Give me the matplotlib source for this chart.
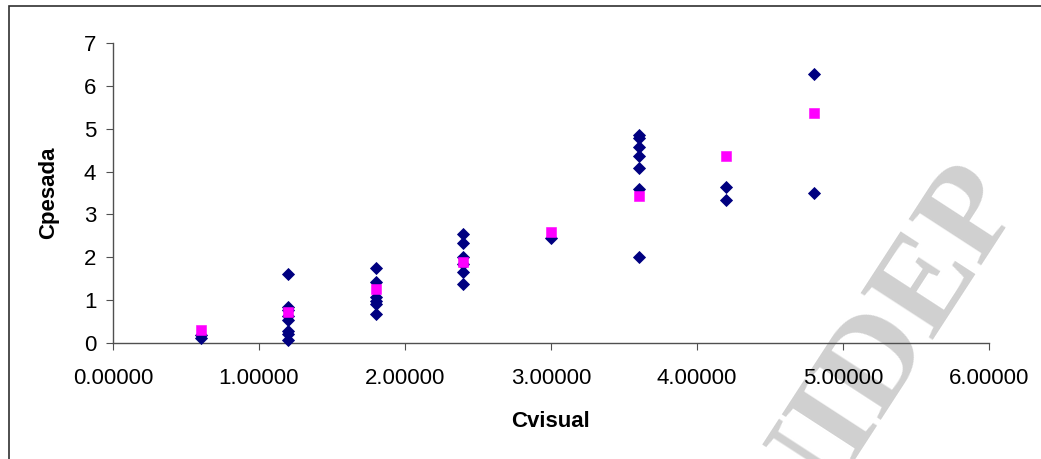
import matplotlib
matplotlib.use("Agg")
import matplotlib.pyplot as plt
from matplotlib.patches import Rectangle
from matplotlib.ticker import FormatStrFormatter

plt.rcParams['font.family'] = ['Liberation Sans', 'DejaVu Sans']

# Observed (diamonds) data: Cvisual vs Cpesada
obs_x = [0.6, 0.6,
         1.2, 1.2, 1.2, 1.2, 1.2, 1.2, 1.2, 1.2,
         1.8, 1.8, 1.8, 1.8, 1.8, 1.8,
         2.4, 2.4, 2.4, 2.4, 2.4, 2.4,
         3.0,
         3.6, 3.6, 3.6, 3.6, 3.6, 3.6, 3.6,
         4.2, 4.2,
         4.8, 4.8]
obs_y = [0.19, 0.12,
         1.62, 0.85, 0.78, 0.62, 0.54, 0.28, 0.21, 0.07,
         1.75, 1.43, 1.08, 0.98, 0.91, 0.67,
         2.55, 2.33, 2.00, 1.85, 1.65, 1.37,
         2.44,
         4.85, 4.79, 4.58, 4.36, 4.08, 3.60, 2.00,
         3.65, 3.34,
         6.27, 3.49]

# Mean (squares) per Cvisual level
mean_x = [0.6, 1.2, 1.8, 2.4, 3.0, 3.6, 4.2, 4.8]
mean_y = [0.30, 0.72, 1.25, 1.89, 2.60, 3.43, 4.36, 5.37]

x_ticks = [0, 1, 2, 3, 4, 5, 6]
y_ticks = [0, 1, 2, 3, 4, 5, 6, 7]

W, H = 1041, 459
fig = plt.figure(figsize=(W / 100, H / 100), dpi=100)
fig.patch.set_facecolor('white')

# outer chart-area border (cropped on right and bottom)
fig.add_artist(Rectangle((8.5 / W, -0.05), 1.2, 1 - 5.5 / H + 0.05,
                         transform=fig.transFigure, fill=False,
                         edgecolor='#303030', linewidth=1.2, clip_on=False))

# watermark (beneath the plot)
fig.text(800 / W, 1 - 542 / H, 'NIDEP', rotation=57, rotation_mode='anchor',
         fontsize=95, fontweight='bold',
         family=['Liberation Serif', 'DejaVu Serif'],
         color='#d0d0d0', ha='left', va='baseline', zorder=-1)

ax = fig.add_axes([113 / W, (H - 343) / H, (989 - 113) / W, 300 / H])
ax.set_facecolor('none')

ax.plot(obs_x, obs_y, linestyle='none', marker='D', markersize=5.7,
        markerfacecolor='#000080', markeredgecolor='#000080',
        markeredgewidth=0.6, zorder=3, clip_on=False)
ax.plot(mean_x, mean_y, linestyle='none', marker='s', markersize=7.3,
        markerfacecolor='#FF00FF', markeredgecolor='#FF00FF',
        markeredgewidth=0.4, zorder=4, clip_on=False)

ax.set_xlim(0, 6)
ax.set_ylim(0, 7)
ax.set_xticks(x_ticks)
ax.set_yticks(y_ticks)
ax.xaxis.set_major_formatter(FormatStrFormatter('%.5f'))
ax.yaxis.set_major_formatter(FormatStrFormatter('%d'))

for side in ['top', 'right']:
    ax.spines[side].set_visible(False)
for side in ['left', 'bottom']:
    ax.spines[side].set_color('#505050')
    ax.spines[side].set_linewidth(1.0)

ax.tick_params(axis='both', direction='out', length=5, width=0.8,
               color='#505050', labelsize=16, labelcolor='black')
ax.tick_params(axis='x', pad=13)
ax.tick_params(axis='y', pad=7)

ax.set_xlabel('Cvisual', fontsize=16, fontweight='bold', labelpad=16)
ax.set_ylabel('Cpesada', fontsize=16, fontweight='bold', labelpad=18)

fig.savefig('out.png', dpi=100, facecolor='white')
